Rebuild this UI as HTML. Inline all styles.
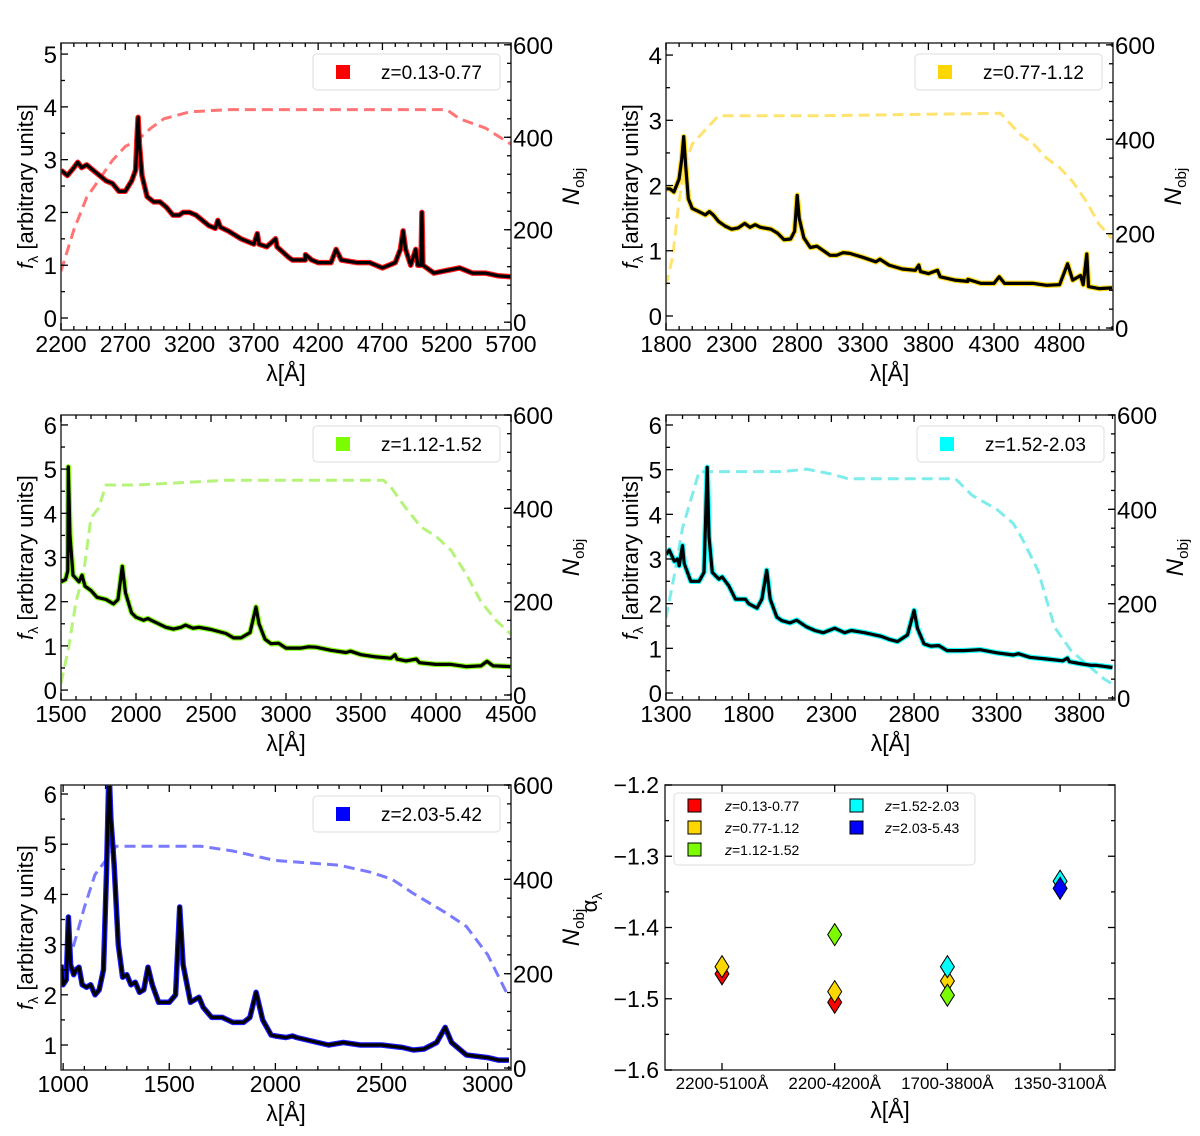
<!DOCTYPE html>
<html><head><meta charset="utf-8"><style>
html,body{margin:0;padding:0;background:#fff;}
svg{display:block;font-family:"Liberation Sans",sans-serif;}
</style></head><body>
<svg id="fig" width="1200" height="1136" viewBox="0 0 1200 1136" xmlns="http://www.w3.org/2000/svg"></svg>
<script>
// ---------- data ----------
const p1Wave=[2200,2250,2300,2330,2360,2400,2450,2500,2550,2600,2650,2700,2750,2780,2795,2800,2810,2830,2870,2920,2970,3020,3070,3120,3150,3200,3250,3300,3350,3400,3420,3440,3500,3600,3700,3727,3740,3800,3869,3880,3970,4000,4100,4102,4150,4200,4300,4340,4380,4500,4600,4700,4800,4840,4861,4880,4920,4959,4975,5000,5007,5015,5100,5200,5300,5400,5500,5600,5700];
const p1Flux=[2.8,2.7,2.85,2.95,2.85,2.9,2.8,2.7,2.6,2.55,2.4,2.4,2.6,2.8,3.6,3.8,3.3,2.7,2.3,2.2,2.2,2.1,1.95,1.95,2.0,2.0,1.95,1.85,1.75,1.7,1.85,1.72,1.65,1.5,1.4,1.6,1.4,1.35,1.5,1.35,1.15,1.1,1.1,1.2,1.1,1.05,1.05,1.3,1.1,1.05,1.05,0.95,1.05,1.3,1.65,1.3,1.0,1.3,1.0,1.0,2.0,1.0,0.85,0.9,0.95,0.85,0.85,0.8,0.78];
const p1NWave=[2200,2300,2400,2500,2600,2700,2800,2900,3000,3200,3500,4000,5200,5300,5500,5700];
const p1N=[110,200,270,310,350,380,395,420,440,455,460,460,460,440,420,385];

const p2Wave=[1800,1830,1860,1880,1900,1920,1935,1950,1970,2000,2050,2100,2130,2160,2200,2250,2300,2350,2400,2440,2480,2520,2600,2650,2700,2750,2780,2800,2815,2850,2900,2950,3000,3050,3100,3150,3200,3300,3400,3430,3500,3600,3700,3727,3740,3800,3869,3890,4000,4100,4102,4200,4300,4340,4380,4500,4600,4700,4800,4861,4900,4959,4980,5007,5020,5100,5200];
const p2Flux=[1.95,1.95,1.9,2.0,2.1,2.4,2.75,2.3,1.8,1.65,1.6,1.55,1.6,1.55,1.45,1.38,1.33,1.35,1.42,1.36,1.4,1.36,1.33,1.27,1.17,1.18,1.3,1.85,1.5,1.2,1.05,1.07,1.0,0.93,0.93,0.97,0.96,0.9,0.83,0.87,0.78,0.72,0.7,0.78,0.68,0.65,0.7,0.6,0.55,0.53,0.56,0.5,0.5,0.6,0.5,0.5,0.5,0.47,0.48,0.8,0.55,0.62,0.48,0.95,0.45,0.42,0.43];
const p2NWave=[1800,1850,1900,1950,2000,2100,2200,3000,4350,4400,4500,4600,4700,4800,4900,5000,5100,5200];
const p2N=[90,150,270,350,390,420,450,450,455,440,410,390,360,340,310,270,220,190];

const p3Wave=[1500,1530,1545,1549,1560,1580,1620,1640,1660,1700,1740,1800,1850,1880,1909,1930,1970,2000,2050,2080,2100,2200,2250,2300,2330,2380,2420,2500,2600,2650,2700,2760,2800,2820,2860,2900,2950,3000,3100,3150,3200,3300,3400,3430,3500,3600,3700,3727,3740,3800,3869,3890,4000,4100,4200,4300,4340,4380,4500];
const p3Flux=[2.45,2.5,2.7,5.05,3.5,2.6,2.45,2.6,2.35,2.25,2.1,2.05,1.95,2.05,2.8,2.2,1.75,1.65,1.58,1.62,1.58,1.42,1.38,1.42,1.47,1.4,1.42,1.37,1.28,1.18,1.18,1.3,1.88,1.5,1.15,1.05,1.06,0.95,0.95,0.98,0.97,0.9,0.85,0.88,0.8,0.75,0.72,0.8,0.7,0.66,0.7,0.62,0.58,0.58,0.53,0.55,0.65,0.55,0.53];
const p3NWave=[1500,1550,1600,1650,1700,1750,1800,2000,2600,3650,3700,3800,3900,4000,4100,4200,4300,4400,4500];
const p3N=[25,100,200,260,380,400,450,450,460,460,445,400,360,340,310,260,200,160,130];

const p4Wave=[1300,1320,1350,1370,1380,1400,1410,1450,1500,1530,1549,1560,1580,1620,1640,1680,1720,1780,1800,1850,1880,1909,1930,1970,2000,2050,2090,2150,2200,2250,2320,2380,2420,2500,2600,2650,2700,2760,2800,2820,2860,2900,2950,3000,3100,3200,3300,3400,3430,3500,3600,3700,3727,3740,3800,3869,3900,4000];
const p4Flux=[3.1,3.2,2.95,3.0,2.85,3.3,2.9,2.5,2.5,2.7,5.05,3.5,2.7,2.55,2.6,2.4,2.1,2.1,2.0,1.9,2.1,2.75,2.1,1.7,1.62,1.57,1.63,1.48,1.4,1.35,1.45,1.35,1.4,1.35,1.27,1.2,1.15,1.3,1.85,1.45,1.1,1.05,1.06,0.95,0.95,0.97,0.9,0.85,0.88,0.8,0.76,0.72,0.78,0.7,0.66,0.62,0.62,0.57];
const p4NWave=[1300,1350,1400,1450,1500,1550,2000,2150,2300,2400,3050,3150,3300,3400,3450,3550,3650,3750,3850,3950,4000];
const p4N=[170,260,360,420,480,480,480,485,475,465,465,430,400,370,340,270,150,100,70,40,30];

const p5Wave=[990,1000,1015,1025,1035,1050,1060,1075,1090,1110,1130,1150,1170,1190,1205,1216,1225,1240,1260,1280,1300,1320,1340,1360,1380,1400,1420,1450,1500,1530,1549,1565,1600,1640,1660,1700,1750,1800,1850,1880,1909,1940,1980,2000,2050,2080,2100,2200,2250,2320,2400,2500,2600,2650,2700,2760,2800,2830,2900,3000,3050,3100];
const p5Flux=[2.6,2.2,2.3,3.55,2.6,2.4,2.5,2.55,2.2,2.15,2.2,2.0,2.1,2.5,4.5,6.5,5.5,4.6,3.0,2.35,2.4,2.2,2.25,2.05,2.1,2.55,2.2,1.85,1.85,2.0,3.75,2.6,1.85,1.95,1.75,1.55,1.55,1.45,1.45,1.55,2.05,1.5,1.2,1.18,1.15,1.18,1.15,1.05,1.0,1.05,1.0,1.0,0.95,0.9,0.92,1.05,1.35,1.05,0.8,0.75,0.7,0.7];
const p5NWave=[990,1050,1100,1150,1200,1250,1300,1650,1800,1900,2000,2300,2450,2550,2650,2800,2900,3000,3100];
const p5N=[190,260,340,410,440,470,470,470,460,450,440,430,415,400,370,330,300,240,150];

// slope panel
const slopeCategories=["2200-5100Å","2200-4200Å","1700-3800Å","1350-3100Å"];
const slopeTicks=[-1.2,-1.3,-1.4,-1.5,-1.6];
const slopeRed=[-1.465,-1.505,null,null];
const slopeGold=[-1.455,-1.49,-1.475,null];
const slopeGreen=[null,-1.41,-1.495,null];
const slopeCyan=[null,null,-1.455,-1.335];
const slopeBlue=[null,null,null,-1.345];

// ---------- drawing ----------
const NS="http://www.w3.org/2000/svg";
const svg=document.getElementById('fig');
function mk(tag,attrs,parent){const e=document.createElementNS(NS,tag);for(const k in attrs)e.setAttribute(k,attrs[k]);(parent||svg).appendChild(e);return e;}
function txt(s,attrs,parent){const e=mk('text',attrs,parent);e.textContent=s;return e;}

let clipId=0;
function panel(c){
  const g=mk('g',{});
  
  
  const sx=v=>c.x0+(v-c.xmin)/(c.xmax-c.xmin)*(c.x1-c.x0);
  const sy=v=>c.y1-(v-c.ymin)/(c.ymax-c.ymin)*(c.y1-c.y0);
  const sr=v=>c.y1-(v-c.rmin)/(c.rmax-c.rmin)*(c.y1-c.y0);
  clipId++;
  const cp=mk('clipPath',{id:'cp'+clipId},g);
  mk('rect',{x:c.x0,y:c.y0,width:c.x1-c.x0,height:c.y1-c.y0},cp);
  const pg=mk('g',{'clip-path':'url(#cp'+clipId+')'},g);
  let d='';c.nw.forEach((w,i)=>{d+=(i?'L':'M')+sx(w).toFixed(1)+','+sr(c.n[i]).toFixed(1);});
  const nl=mk('path',{d:d,fill:'none',stroke:c.dash,'stroke-width':3,'stroke-dasharray':'11,6'},pg);
  
  
  let s='';c.wave.forEach((w,i)=>{s+=(i?'L':'M')+sx(w).toFixed(1)+','+sy(c.flux[i]).toFixed(1);});
  const band=mk('path',{d:s,fill:'none',stroke:c.color,'stroke-width':5.5,'stroke-linejoin':'round',opacity:0.9},pg);
  
  
  const sp=mk('path',{d:s,fill:'none',stroke:'#000','stroke-width':3.2,'stroke-linejoin':'round'},pg);
  
  
  const fr=mk('rect',{x:c.x0,y:c.y0,width:c.x1-c.x0,height:c.y1-c.y0,fill:'none',stroke:'#333','stroke-width':1.5},g);
  
  
  for(let v=Math.ceil(c.xmin/100)*100;v<=c.xmax;v+=100){
    const X=sx(v);const major=c.xt.includes(v);const L=major?7:4;
    mk('line',{x1:X,x2:X,y1:c.y1,y2:c.y1-L,stroke:'#000','stroke-width':1.3},g);
    mk('line',{x1:X,x2:X,y1:c.y0,y2:c.y0+L,stroke:'#000','stroke-width':1.3},g);
  }
  c.xt.forEach(v=>{const t=txt(String(v),{x:sx(v),y:c.y1+22,'font-size':23,'text-anchor':'middle'},g);
    });
  for(let v=Math.ceil(c.ymin*2)/2;v<=c.ymax;v+=0.5){
    const Y=sy(v);const major=Math.abs(v-Math.round(v))<1e-6;
    mk('line',{x1:c.x0,x2:c.x0+(major?7:4),y1:Y,y2:Y,stroke:'#000','stroke-width':1.3},g);
    if(major){const t=txt(String(Math.round(v)),{x:c.x0-4,y:Y+9,'font-size':24,'text-anchor':'end'},g);
      }
  }
  for(let v=0;v<=600;v+=40){
    const Y=sr(v);mk('line',{x1:c.x1,x2:c.x1-4,y1:Y,y2:Y,stroke:'#000','stroke-width':1.3},g);
  }
  for(let v=0;v<=600;v+=200){
    const Y=sr(v);mk('line',{x1:c.x1,x2:c.x1-7,y1:Y,y2:Y,stroke:'#000','stroke-width':1.3},g);
    const t=txt(String(v),{x:c.x1+2,y:Y+9,'font-size':24},g);
    
  }
  const xl=txt('λ[Å]',{x:(c.x0+c.x1)/2,y:c.y1+51,'font-size':23,'text-anchor':'middle'},g);
  
  const cy=(c.y0+c.y1)/2;
  const yl=mk('text',{x:0,y:0,'font-size':22,'text-anchor':'middle',transform:`translate(${c.x0-28},${cy}) rotate(-90)`},g);
  yl.innerHTML='<tspan font-style="italic">f</tspan><tspan font-size="14" dy="5">λ</tspan><tspan dy="-5"> [arbitrary units]</tspan>';
  
  const rl=mk('text',{x:0,y:0,'font-size':24,'text-anchor':'middle',transform:`translate(${c.x1+68},${cy}) rotate(-90)`},g);
  rl.innerHTML='<tspan font-style="italic">N</tspan><tspan font-size="15" dy="5">obj</tspan>';
  
  const lx=c.x1-198,ly=c.y0+11;
  const lb=mk('rect',{x:lx,y:ly,width:187,height:36,rx:4,fill:'#fff',stroke:'#ddd','stroke-width':1},g);
  
  const ls=mk('rect',{x:lx+23,y:ly+11,width:14,height:14,fill:c.color},g);
  
  const lt=txt(c.label,{x:lx+68,y:ly+25,'font-size':19},g);
  
}

panel({name:'panel-z013-077',x0:61,x1:511,y0:43,y1:330,xmin:2200,xmax:5700,ymin:-0.227,ymax:5.21,rmin:-17,rmax:604,
  xt:[2200,2700,3200,3700,4200,4700,5200,5700],color:'#ff0000',dash:'#ff7575',label:'z=0.13-0.77',wave:p1Wave,flux:p1Flux,nw:p1NWave,n:p1N});
panel({name:'panel-z077-112',x0:666,x1:1113,y0:43,y1:330,xmin:1800,xmax:5207,ymin:-0.215,ymax:4.185,rmin:-4.2,rmax:604,
  xt:[1800,2300,2800,3300,3800,4300,4800],color:'#ffd700',dash:'#ffe370',label:'z=0.77-1.12',wave:p2Wave,flux:p2Flux,nw:p2NWave,n:p2N});
panel({name:'panel-z112-152',x0:61,x1:511,y0:415,y1:700,xmin:1500,xmax:4500,ymin:-0.225,ymax:6.225,rmin:-10.7,rmax:600,
  xt:[1500,2000,2500,3000,3500,4000,4500],color:'#7cfc00',dash:'#b6f37a',label:'z=1.12-1.52',wave:p3Wave,flux:p3Flux,nw:p3NWave,n:p3N});
panel({name:'panel-z152-203',x0:666,x1:1115,y0:415,y1:700,xmin:1300,xmax:4015,ymin:-0.157,ymax:6.224,rmin:-4.2,rmax:600,
  xt:[1300,1800,2300,2800,3300,3800],color:'#00ffff',dash:'#7fecec',label:'z=1.52-2.03',wave:p4Wave,flux:p4Flux,nw:p4NWave,n:p4N});
panel({name:'panel-z203-542',x0:61,x1:511,y0:785,y1:1070,xmin:990,xmax:3110,ymin:0.502,ymax:6.18,rmin:-4.2,rmax:600,
  xt:[1000,1500,2000,2500,3000],color:'#0000ff',dash:'#7a7aff',label:'z=2.03-5.42',wave:p5Wave,flux:p5Flux,nw:p5NWave,n:p5N});

// ---------- slope panel ----------
(function(){
  const g=mk('g',{});
  
  
  const x0=665,x1=1115,y0=785,y1=1070,ymin=-1.6,ymax=-1.2;
  const sy=v=>y1-(v-ymin)/(ymax-ymin)*(y1-y0);
  const catX=i=>x0+57+i*112.7;
  const fr=mk('rect',{x:x0,y:y0,width:x1-x0,height:y1-y0,fill:'none',stroke:'#333','stroke-width':1.5},g);
  
  for(let k=0;k<=8;k++){const v=ymin+k*0.05;const Y=sy(v);const L=k%2==0?7:4;
    mk('line',{x1:x0,x2:x0+L,y1:Y,y2:Y,stroke:'#000','stroke-width':1.3},g);
    mk('line',{x1:x1,x2:x1-L,y1:Y,y2:Y,stroke:'#000','stroke-width':1.3},g);}
  slopeTicks.forEach(v=>{const t=txt('−'+Math.abs(v).toFixed(1),{x:x0-6,y:sy(v)+8,'font-size':23,'text-anchor':'end'},g);
    });
  slopeCategories.forEach((c,i)=>{const X=catX(i);
    mk('line',{x1:X,x2:X,y1:y1,y2:y1-7,stroke:'#000','stroke-width':1.3},g);
    mk('line',{x1:X,x2:X,y1:y0,y2:y0+7,stroke:'#000','stroke-width':1.3},g);
    const t=txt(c,{x:X,y:y1+19,'font-size':17,'text-anchor':'middle'},g);
    });
  const xl=txt('λ[Å]',{x:(x0+x1)/2,y:y1+48,'font-size':23,'text-anchor':'middle'},g);
  
  const yl=mk('text',{x:0,y:0,'font-size':22,'text-anchor':'middle',transform:`translate(${x0-68},${(y0+y1)/2-25}) rotate(-90)`},g);
  yl.innerHTML='α<tspan font-size="14" dy="5">λ</tspan>';
  
  const series=[[slopeRed,'#ff0000','z=0.13-0.77'],[slopeGold,'#ffd700','z=0.77-1.12'],[slopeGreen,'#7cfc00','z=1.12-1.52'],[slopeCyan,'#00ffff','z=1.52-2.03'],[slopeBlue,'#0000ff','z=2.03-5.43']];
  series.forEach(([vals,col])=>{vals.forEach((v,i)=>{if(v===null)return;const X=catX(i),Y=sy(v);
    const p=mk('polygon',{points:`${X},${Y-11} ${X+7},${Y} ${X},${Y+11} ${X-7},${Y}`,fill:col,stroke:'#000','stroke-width':1},g);
    });});
  const lb=mk('rect',{x:674,y:793,width:301,height:72,rx:4,fill:'#fff',stroke:'#ddd','stroke-width':1},g);
  
  series.forEach(([v,col,lab],i)=>{const colI=i<3?0:1,row=i<3?i:i-3;
    const sxp=colI?850:688,tx=colI?885:725,Y=806+row*22;
    const s=mk('rect',{x:sxp,y:Y-7,width:13,height:13,fill:col,stroke:'#000','stroke-width':1},g);
    
    const t=mk('text',{x:tx,y:Y+5,'font-size':14},g);
    t.innerHTML='<tspan font-style="italic">z</tspan>'+lab.slice(1);
    });
})();
</script>
</body></html>
